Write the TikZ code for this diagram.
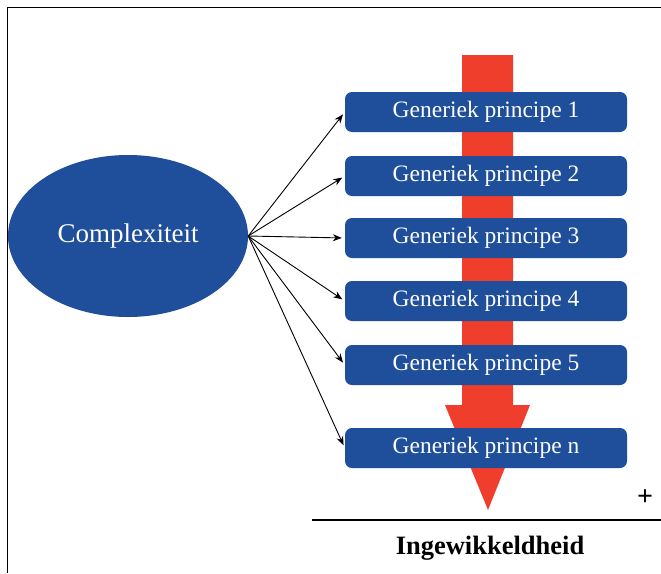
\documentclass[tikz,border=0pt]{standalone}
\usepackage{fontspec}
\setmainfont{Liberation Serif}
\usetikzlibrary{arrows.meta,shapes.geometric}
\definecolor{boxblue}{RGB}{31,78,154}
\definecolor{arrowred}{RGB}{240,62,44}
\tikzset{
  principe/.style={fill=boxblue,text=white,rounded corners=7pt,minimum width=282pt,
    minimum height=40pt,inner sep=0pt,font=\fontsize{23.5}{28}\selectfont},
  pijl/.style={-{Stealth[length=9pt,width=7pt]},black,line width=.9pt,shorten >=3pt}
}
\begin{document}
\begin{tikzpicture}[x=1pt,y=-1pt]
\useasboundingbox (0,0) rectangle (661,573);
\draw[line width=1pt] (7,573) -- (7,7) -- (661,7);
%%%%
\fill[arrowred] (462,55) -- (513,55) -- (513,405) -- (530,405) -- (488,510)
  -- (445,405) -- (462,405) -- cycle;
\node[ellipse,fill=boxblue,text=white,minimum width=240pt,minimum height=162pt,
  inner sep=0pt,font=\fontsize{27}{32}\selectfont] (cx) at (128,236) {Complexiteit};
\foreach \i/\y in {1/112,2/176,3/238,4/301,5/365,n/448}
  \node[principe] (p\i) at (486,\y) {Generiek principe \i};
\foreach \i in {1,2,3,4,5,n}
  \draw[pijl] (cx.east) -- (p\i.west);
%%%%
\draw[line width=1.8pt] (312,520) coordinate (as0) -- (661,520) coordinate (as1);
\node[font=\bfseries\fontsize{28}{32}\selectfont] (plus) at (645,498) {+};
\node[font=\bfseries\fontsize{26.5}{30}\selectfont] (ingew) at (490,548) {Ingewikkeldheid};
\end{tikzpicture}
\end{document}
